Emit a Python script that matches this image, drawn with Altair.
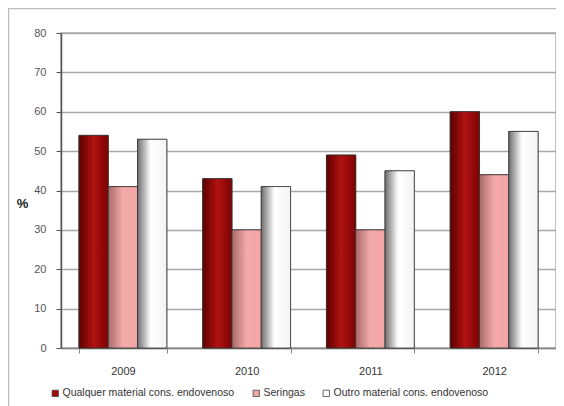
import altair as alt
import pandas as pd

years = ["2009", "2010", "2011", "2012"]
series = ["Qualquer material cons. endovenoso", "Seringas", "Outro material cons. endovenoso"]
qualquer = [54, 43, 49, 60]
seringas = [41, 30, 30, 44]
outro = [53, 41, 45, 55]

rows = []
for s, vals in zip(series, [qualquer, seringas, outro]):
    for y, v in zip(years, vals):
        rows.append({"ano": y, "serie": s, "valor": v})
df = pd.DataFrame(rows)

FONT = "Liberation Sans"
solid = ["#A00A0A", "#F2A6A6", "#FFFFFF"]

x_enc = alt.X("ano:N", sort=years, title=None,
              scale=alt.Scale(paddingInner=0.29, paddingOuter=0.145),
              axis=alt.Axis(labelAngle=0, labelFont=FONT, labelFontSize=11, labelColor="#333",
                            domainColor="#888", domainWidth=1.5, tickColor="#888", tickSize=5,
                            tickBand="extent", labelPadding=12, grid=False))
xo_enc = alt.XOffset("serie:N", scale=alt.Scale(domain=series, paddingInner=0, paddingOuter=0))
y_enc = alt.Y("valor:Q", scale=alt.Scale(domain=[0, 80], nice=False),
              axis=alt.Axis(values=list(range(0, 81, 10)), title="%", titleAngle=0,
                            titleX=-39, titleY=170, titleAlign="center", titleBaseline="middle",
                            titleFont=FONT, titleFontSize=13, titleFontWeight="bold", titleColor="#222",
                            labelFont=FONT, labelFontSize=11, labelColor="#555", labelPadding=10,
                            domainColor="#555", domainWidth=1.5, tickColor="#555", tickSize=5,
                            gridColor="#a8a8a8", gridWidth=1.5))

base = alt.Chart(df).mark_bar(stroke="#444", strokeWidth=0.8).encode(
    x=x_enc, xOffset=xo_enc, y=y_enc,
    color=alt.Color("serie:N", scale=alt.Scale(domain=series, range=solid),
                    legend=alt.Legend(title=None, orient="none", legendX=-11, legendY=355,
                                      direction="horizontal", symbolType="square", symbolSize=40,
                                      symbolStrokeColor="#444", symbolStrokeWidth=0.8,
                                      labelFont=FONT, labelFontSize=10.5, labelColor="#333",
                                      labelLimit=0, labelOffset=2, columnPadding=16))
)

def grad(stops):
    return alt.Gradient(gradient="linear", x1=0, x2=1, y1=0, y2=0,
                        stops=[alt.GradientStop(offset=o, color=c) for o, c in stops])

grads = [
    grad([(0, "#5E0000"), (0.5, "#B01212"), (1, "#7E0202")]),
    grad([(0, "#A86A6A"), (0.5, "#F4AAAA"), (1, "#F2A4A4")]),
    grad([(0, "#6E6E6E"), (0.45, "#FFFFFF"), (1, "#F4F4F4")]),
]

overlays = []
for s, g in zip(series, grads):
    overlays.append(
        alt.Chart(df).transform_filter(alt.datum.serie == s)
        .mark_bar(fill=g, stroke="#333", strokeWidth=0.8)
        .encode(x=x_enc, xOffset=xo_enc, y=y_enc)
    )

frame = alt.Chart(pd.DataFrame({"a": [0]})).mark_rect(fillOpacity=0, stroke="#bbbbbb", strokeWidth=1.5).encode(
    x=alt.value(-52.5), x2=alt.value(700), y=alt.value(0.5 - 25), y2=alt.value(700)
)

chart = alt.layer(frame, base, *overlays).properties(
    width=495, height=315,
    autosize=alt.AutoSizeParams(type="none"),
    padding={"left": 53, "top": 25, "right": 0, "bottom": 70},
).configure_view(stroke="#aaaaaa", strokeWidth=1.5)

chart.save("out.html", embed_options={"renderer": "svg", "actions": False})
